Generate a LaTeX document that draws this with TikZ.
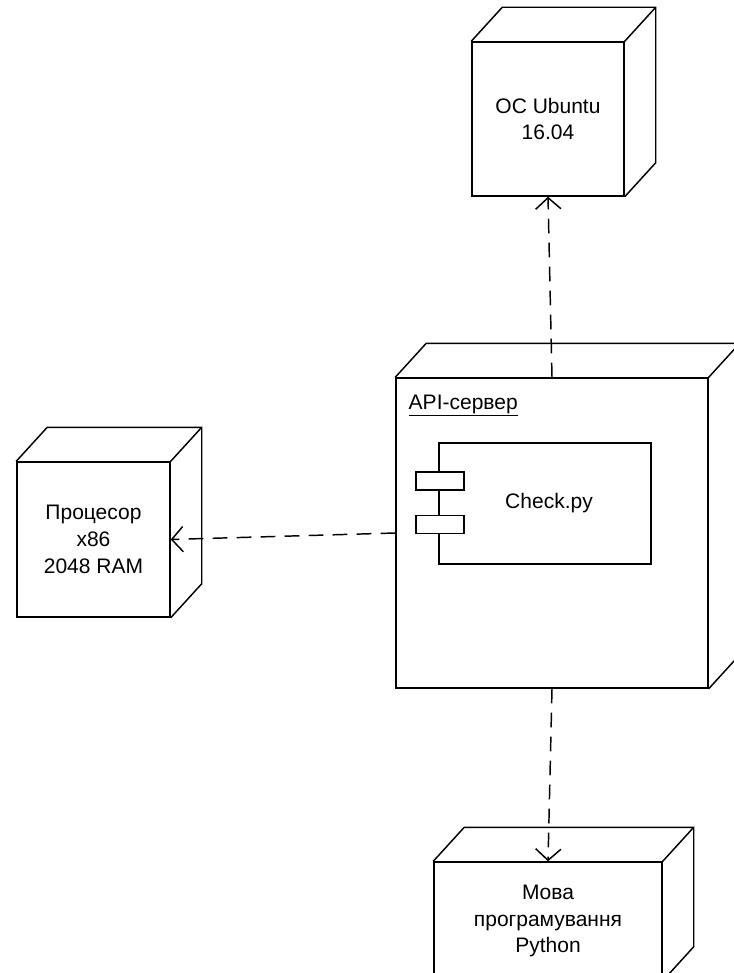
\documentclass[tikz,border=0pt]{standalone}
\usepackage{fontspec}
\setmainfont{Liberation Sans}
\usetikzlibrary{arrows.meta}

\tikzset{every picture/.style={line width=1.1pt}}

\begin{document}
\begin{tikzpicture}[x=0.75pt,y=0.75pt,yscale=-1,xscale=1,
  devnode/.style={draw, align=center, inner sep=0.75pt, font=\fontsize{15.75}{20}\selectfont},
  compnode/.style={draw, inner sep=0.75pt, minimum width=159pt, minimum height=90.75pt, font=\fontsize{15.75}{20}\selectfont},
  tabnode/.style={draw, fill=white, inner sep=0pt, minimum width=36pt, minimum height=13.5pt},
  dep/.style={dash pattern=on 11pt off 7pt, -{Straight Barb[length=8.5pt,width=19pt]}}]
\useasboundingbox (0,0) rectangle (733,973);

% Nodes (front faces)
\node[devnode, minimum width=114pt, minimum height=115.5pt] (os) at (548,119) {OC Ubuntu\\16.04};
\node[devnode, minimum width=114.75pt, minimum height=116.25pt] (cpu) at (93.5,539.5) {Процесор\\x86\\2048 RAM};
\node[devnode, minimum width=234pt, minimum height=232.5pt] (srv) at (552,533) {};
\node[devnode, minimum width=171pt, minimum height=88.5pt] (py) at (548,921) {Мова\\програмування\\Python};

% Depth of the boxes
\foreach \n in {os,cpu,srv,py} {
  \draw (\n.north west) -- ++(31,-34) -| ([shift={(31,-34)}]\n.south east) -- (\n.south east)
        (\n.north east) -- ++(31,-34);
}

% Server content
\node[anchor=base west, inner sep=0pt, font=\fontsize{15.75}{20}\selectfont] (srvlbl) at (408,409) {\underline{API-сервер}};
\node[compnode] (chk) at (545,503.5) {\hspace*{6pt}Check.py};
\node[tabnode] (tab1) at (440,481) {};
\node[tabnode] (tab2) at (440,524.5) {};

% Dependencies
\draw[dep] (srv.north) -- (os.south);
\draw[dep] (srv.west) -- (cpu.east);
\draw[dep] (srv.south) -- (py.north);

\end{tikzpicture}
\end{document}
